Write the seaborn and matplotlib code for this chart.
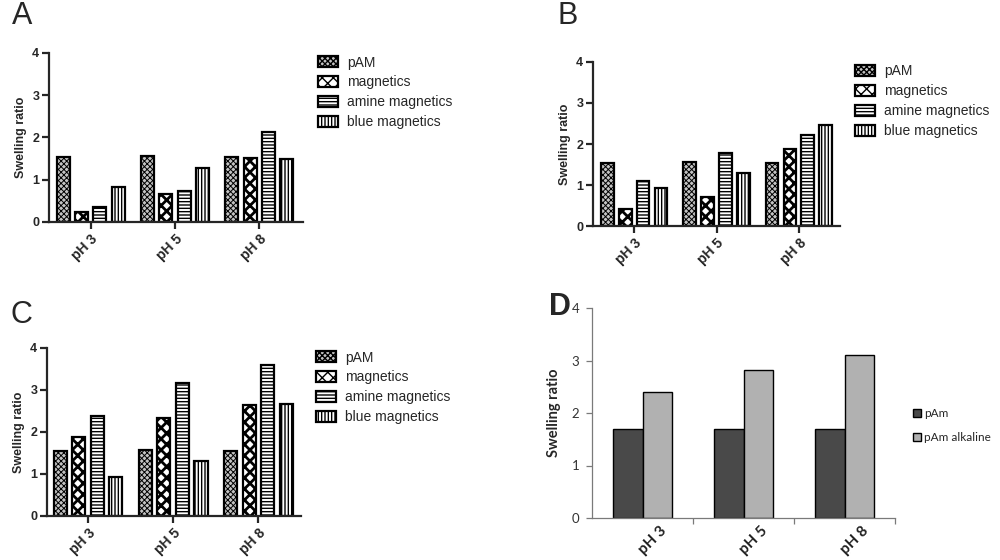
import numpy as np
import pandas as pd
import seaborn as sns
import matplotlib
matplotlib.use('Agg')
import matplotlib.transforms as mtransforms
from matplotlib import pyplot as plt

# Data
ph_labels = ['pH 3', 'pH 5', 'pH 8']
samples = ['pAM', 'magnetics', 'amine magnetics', 'blue magnetics']

a_pam = [1.53, 1.55, 1.53]
a_magnetics = [0.24, 0.66, 1.52]
a_amine = [0.36, 0.74, 2.12]
a_blue = [0.82, 1.27, 1.49]

b_pam = [1.53, 1.55, 1.53]
b_magnetics = [0.41, 0.70, 1.88]
b_amine = [1.10, 1.78, 2.22]
b_blue = [0.92, 1.30, 2.47]

c_pam = [1.55, 1.57, 1.54]
c_magnetics = [1.87, 2.33, 2.65]
c_amine = [2.38, 3.17, 3.59]
c_blue = [0.93, 1.32, 2.67]

d_samples = ['pAm', 'pAm alkaline']
d_pam = [1.70, 1.70, 1.70]
d_alkaline = [2.40, 2.81, 3.10]

sns.set_style('ticks')
plt.rcParams['font.family'] = ['Liberation Sans', 'DejaVu Sans']
plt.rcParams['hatch.linewidth'] = 1.0

faces = {'pAM': '#c4c4c4', 'magnetics': 'white',
         'amine magnetics': 'white', 'blue magnetics': 'white'}
hatches = ['xxxxxx', 'xxx', '-----', '|||||']
hatch_lw = [0.7, 2.0, 1.0, 1.0]


def to_long(cols, names):
    rows = []
    for name, vals in zip(names, cols):
        for ph, v in zip(ph_labels, vals):
            rows.append({'pH': ph, 'sample': name, 'ratio': v})
    return pd.DataFrame(rows)


def pattern_panel(fig, rect, cols, letter, letter_xy, xlim):
    ax = fig.add_axes(rect)
    df = to_long(cols, samples)
    sns.barplot(data=df, x='pH', y='ratio', hue='sample', order=ph_labels,
                hue_order=samples, palette=faces, width=0.87, gap=0.29,
                edgecolor='black', linewidth=1.6, ax=ax, errorbar=None)
    for cont, h, hl in zip(ax.containers, hatches, hatch_lw):
        for p in cont.patches:
            p.set_hatch(h)
            if hasattr(p, 'set_hatch_linewidth'):
                p.set_hatch_linewidth(hl)
    ax.get_legend().remove()
    ax.legend(ax.containers, samples, loc='upper left',
              bbox_to_anchor=(1.06, 0.985), frameon=False, borderaxespad=0,
              borderpad=0, handlelength=1.45, handleheight=0.85,
              labelspacing=0.42, handletextpad=0.65, fontsize=10)
    ax.set_ylim(0, 4)
    ax.set_xlim(*xlim)
    ax.set_yticks([0, 1, 2, 3, 4])
    ax.set_xlabel('')
    ax.set_ylabel('Swelling ratio', fontsize=9, fontweight='bold', labelpad=4)
    sns.despine(ax=ax)
    for s in ['left', 'bottom']:
        ax.spines[s].set_linewidth(1.6)
    ax.tick_params(width=1.6, length=5, labelsize=9, pad=2)
    for t in ax.get_yticklabels():
        t.set_fontweight('bold')
    ax.set_xticks(range(3))
    ax.set_xticklabels(ph_labels, rotation=45, ha='right', fontsize=10,
                       rotation_mode='anchor', fontweight='bold')
    fig.text(letter_xy[0], letter_xy[1], letter, fontsize=22,
             ha='left', va='top')
    return ax


fig = plt.figure(figsize=(10, 5.6), dpi=100)

pattern_panel(fig, [0.049, 0.6036, 0.254, 0.3018],
              [a_pam, a_magnetics, a_amine, a_blue], 'A',
              (0.012, 0.998), (-0.496, 2.52))
pattern_panel(fig, [0.593, 0.5964, 0.247, 0.2929],
              [b_pam, b_magnetics, b_amine, b_blue], 'B',
              (0.558, 0.998), (-0.5, 2.5))
pattern_panel(fig, [0.047, 0.0786, 0.254, 0.30],
              [c_pam, c_magnetics, c_amine, c_blue], 'C',
              (0.011, 0.465), (-0.48, 2.5))

# Panel D
axd = fig.add_axes([0.592, 0.075, 0.303, 0.375])
ddf = to_long([d_pam, d_alkaline], d_samples)
sns.barplot(data=ddf, x='pH', y='ratio', hue='sample', order=ph_labels,
            hue_order=d_samples, palette=['#494949', '#b1b1b1'], width=0.58,
            gap=0, edgecolor='black', linewidth=1.0, ax=axd, errorbar=None)
axd.get_legend().remove()
axd.legend(axd.containers, d_samples, loc='center left',
           bbox_to_anchor=(1.06, 0.44), frameon=False, borderaxespad=0,
           borderpad=0, handlelength=0.7, handleheight=0.7,
           labelspacing=1.1, handletextpad=0.2,
           prop={'family': 'Lato', 'size': 8.5})
axd.set_ylim(0, 4)
axd.set_xlim(-0.5, 2.5)
axd.set_yticks([0, 1, 2, 3, 4])
axd.set_xlabel('')
axd.set_ylabel('Swelling ratio', fontsize=10.5, fontweight='bold',
               family='Lato', labelpad=8)
sns.despine(ax=axd)
for s in ['left', 'bottom']:
    axd.spines[s].set_linewidth(0.9)
    axd.spines[s].set_color('#7a7a7a')
axd.tick_params(axis='y', width=0.9, length=4, color='#7a7a7a',
                labelsize=9.5, labelcolor='#333333', pad=5)
for t in axd.get_yticklabels():
    t.set_family('Lato')
axd.set_xticks(range(3))
axd.set_xticks([0.5, 1.5, 2.5], minor=True)
axd.tick_params(axis='x', which='major', length=0, pad=4)
axd.tick_params(axis='x', which='minor', length=4, width=0.9, color='#7a7a7a')
axd.set_xticklabels(ph_labels, rotation=45, ha='center', fontweight='bold',
                    family='Lato', fontsize=11, color='#222222')
shift = mtransforms.ScaledTranslation(0.10, 0, fig.dpi_scale_trans)
for t in axd.get_xticklabels():
    t.set_transform(t.get_transform() + shift)
fig.text(0.549, 0.478, 'D', fontsize=22, fontweight='bold', ha='left', va='top')

fig.savefig('out.png', dpi=100, facecolor='white')
